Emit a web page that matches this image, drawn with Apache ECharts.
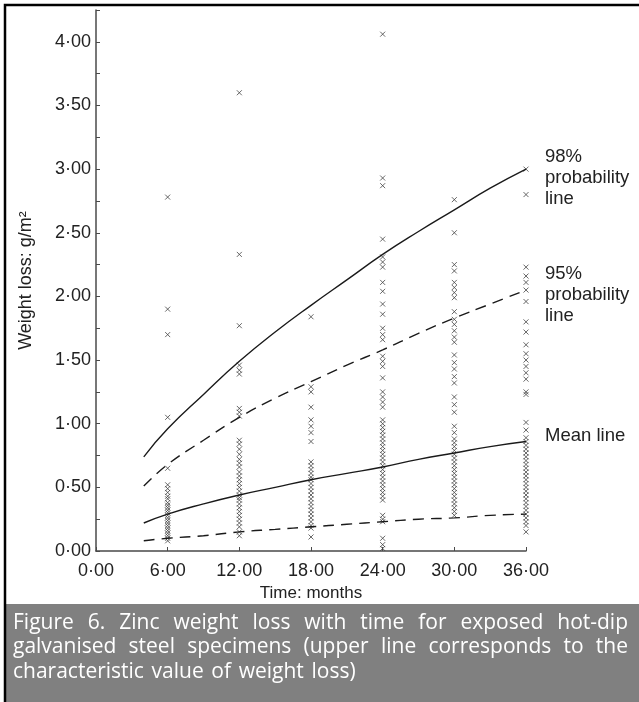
<!DOCTYPE html>
<html>
<head>
<meta charset="utf-8">
<script src="https://cdn.jsdelivr.net/npm/echarts@6/dist/echarts.min.js"></script>
<style>
  html, body { margin: 0; padding: 0; background: #fff; }
  #chart { width: 639px; height: 702px; }
</style>
</head>
<body>
<div id="chart"></div>
<script>
// Months of exposure for each column of specimens
const months = [6, 12, 18, 24, 30, 36];

// Weight loss readings (g/m2) for each exposure period
const month6 = [2.78, 1.90, 1.70, 1.05, 0.65, 0.52, 0.49, 0.46, 0.43, 0.41, 0.38, 0.36, 0.34, 0.32, 0.30, 0.28, 0.26, 0.24, 0.22, 0.20, 0.18, 0.16, 0.14, 0.12, 0.10, 0.08];
const month12 = [3.60, 2.33, 1.77, 1.46, 1.42, 1.39, 1.12, 1.09, 1.06, 0.87, 0.84, 0.80, 0.76, 0.72, 0.69, 0.66, 0.62, 0.59, 0.56, 0.53, 0.50, 0.47, 0.44, 0.42, 0.40, 0.37, 0.34, 0.31, 0.28, 0.25, 0.22, 0.19, 0.15, 0.12];
const month18 = [1.84, 1.29, 1.25, 1.13, 1.03, 0.98, 0.93, 0.86, 0.70, 0.67, 0.64, 0.61, 0.58, 0.56, 0.53, 0.50, 0.47, 0.44, 0.41, 0.38, 0.35, 0.32, 0.29, 0.26, 0.23, 0.20, 0.18, 0.11];
const month24 = [4.06, 2.93, 2.87, 2.45, 2.31, 2.27, 2.23, 2.11, 2.04, 1.94, 1.86, 1.75, 1.70, 1.66, 1.53, 1.49, 1.45, 1.36, 1.25, 1.21, 1.17, 1.13, 1.03, 1.00, 0.97, 0.94, 0.91, 0.88, 0.85, 0.82, 0.79, 0.76, 0.73, 0.70, 0.67, 0.64, 0.61, 0.58, 0.55, 0.52, 0.49, 0.46, 0.43, 0.40, 0.28, 0.25, 0.23, 0.10, 0.05, 0.02];
const month30 = [2.76, 2.50, 2.25, 2.20, 2.11, 2.07, 2.03, 1.99, 1.88, 1.82, 1.78, 1.73, 1.68, 1.64, 1.54, 1.48, 1.43, 1.37, 1.32, 1.21, 1.15, 1.09, 0.98, 0.93, 0.88, 0.85, 0.82, 0.79, 0.76, 0.73, 0.70, 0.67, 0.64, 0.61, 0.58, 0.55, 0.52, 0.49, 0.46, 0.43, 0.40, 0.37, 0.34, 0.31, 0.28];
const month36 = [3.00, 2.80, 2.23, 2.16, 2.11, 2.05, 1.96, 1.80, 1.72, 1.62, 1.55, 1.50, 1.45, 1.40, 1.35, 1.25, 1.23, 1.01, 0.95, 0.89, 0.86, 0.83, 0.80, 0.77, 0.74, 0.71, 0.68, 0.65, 0.62, 0.59, 0.56, 0.53, 0.50, 0.47, 0.44, 0.41, 0.38, 0.35, 0.32, 0.29, 0.26, 0.23, 0.20, 0.15];

// Fitted curves
const curveMonths = [4, 6, 9, 12, 15, 18, 21, 24, 27, 30, 33, 36];
const line98 = [0.74, 0.96, 1.23, 1.49, 1.72, 1.93, 2.13, 2.33, 2.51, 2.68, 2.85, 3.00];
const line95 = [0.51, 0.68, 0.87, 1.05, 1.20, 1.33, 1.46, 1.58, 1.71, 1.83, 1.94, 2.05];
const lineMean = [0.22, 0.29, 0.37, 0.44, 0.50, 0.56, 0.61, 0.66, 0.72, 0.77, 0.82, 0.86];
const lineLow = [0.08, 0.10, 0.12, 0.15, 0.17, 0.19, 0.21, 0.23, 0.25, 0.26, 0.28, 0.29];

const captionLines = [
  'Figure 6. Zinc weight loss with time for exposed hot-dip',
  'galvanised steel specimens (upper line corresponds to the',
  'characteristic value of weight loss)'
];

const columns = [month6, month12, month18, month24, month30, month36];
const points = [];
columns.forEach((vals, i) => vals.forEach(v => points.push([months[i], v])));

const pair = ys => curveMonths.map((m, i) => [m, ys[i]]);
const fmt = v => v.toFixed(2).replace('.', '\u00b7');

const axisColor = '#4a4a4a';
const textColor = '#222';
const labelFont = 'Liberation Sans, Arial, sans-serif';

// caption words: full lines justified to the box edge, last line left-set
const capFont = '21px "Open Sans"';
const measure = document.createElement('canvas').getContext('2d');
measure.font = capFont;
const capLeft = 13, capRight = 628;
const spaceW = measure.measureText(' ').width * 1.4;
const captionGraphics = [];
captionLines.forEach((line, li) => {
  const words = line.split(' ');
  const y = 623 + li * 24.5;
  const widths = words.map(w => measure.measureText(w).width);
  const total = widths.reduce((a, b) => a + b, 0);
  const last = li === captionLines.length - 1;
  const gap = last ? spaceW : (capRight - capLeft - total) / (words.length - 1);
  let x = capLeft;
  words.forEach((w, wi) => {
    captionGraphics.push({
      type: 'text', x, y, z: 10,
      style: { text: w, fill: '#fff', font: capFont, textVerticalAlign: 'middle' }
    });
    x += widths[wi] + gap;
  });
});

const sideLabel = (text, x, y) => ({
  type: 'text', x, y, z: 10,
  style: { text, fill: textColor, font: '18.5px ' + labelFont, lineHeight: 21, textVerticalAlign: 'top' }
});

const curve = (ys, dashed) => ({
  type: 'line', data: pair(ys), smooth: true, showSymbol: false,
  lineStyle: { color: '#1a1a1a', width: 1.4, type: dashed ? [11, 7] : 'solid' }
});

const chart = echarts.init(document.getElementById('chart'));
chart.setOption({
  animation: false,
  backgroundColor: '#fff',
  grid: { left: 96, right: 113, top: 10, bottom: 151 },
  xAxis: {
    type: 'value', min: 0, max: 36, interval: 6,
    name: 'Time: months', nameLocation: 'middle', nameGap: 34,
    nameTextStyle: { color: textColor, fontSize: 17, fontFamily: labelFont },
    axisLine: { lineStyle: { color: axisColor, width: 1.5 } },
    axisTick: { inside: true, length: 4, lineStyle: { color: axisColor } },
    axisLabel: { color: textColor, fontSize: 18, fontFamily: labelFont, margin: 11, formatter: fmt },
    splitLine: { show: false }
  },
  yAxis: {
    type: 'value', min: 0, max: 4.25, interval: 0.25,
    name: 'Weight loss: g/m\u00b2', nameLocation: 'middle', nameGap: 61, nameRotate: 90,
    nameTextStyle: { color: textColor, fontSize: 18, fontFamily: labelFont },
    axisLine: { show: true, lineStyle: { color: axisColor, width: 1.5 } },
    axisTick: { show: true, inside: true, length: 4, lineStyle: { color: axisColor } },
    axisLabel: {
      color: textColor, fontSize: 18, fontFamily: labelFont, margin: 5,
      formatter: v => (Math.round(v * 100) % 50 === 0 ? fmt(v) : '')
    },
    splitLine: { show: false }
  },
  series: [
    {
      type: 'scatter', data: points,
      symbol: 'path://M0,0L10,10M10,0L0,10', symbolSize: 5,
      itemStyle: { color: 'none', borderColor: '#444', borderWidth: 1 }
    },
    curve(line98, false),
    curve(line95, true),
    curve(lineMean, false),
    curve(lineLow, true)
  ],
  graphic: [
    sideLabel('98%\nprobability\nline', 545, 146),
    sideLabel('95%\nprobability\nline', 545, 263),
    sideLabel('Mean line', 545, 425),
    { type: 'rect', z: 5, shape: { x: 6, y: 604, width: 633, height: 98 }, style: { fill: '#808080' } },
    { type: 'rect', z: 6, shape: { x: 5, y: 5, width: 640, height: 700 }, style: { fill: 'none', stroke: '#000', lineWidth: 2.5 } },
    ...captionGraphics
  ]
});
</script>
</body>
</html>
